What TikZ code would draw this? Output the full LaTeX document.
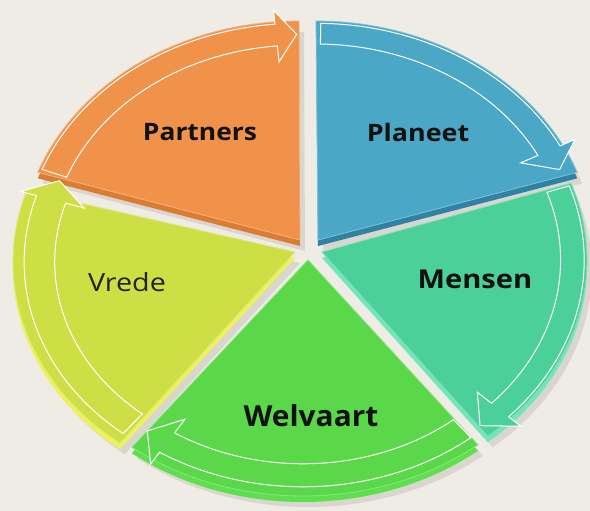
\documentclass[tikz,border=0pt]{standalone}
\usepackage{fontspec}
\usepackage{graphicx}
\setmainfont{Open Sans}
\definecolor{bg}{HTML}{EEECE4}
\definecolor{pface}{HTML}{F0924A}\definecolor{pside}{HTML}{DC7C33}
\definecolor{lface}{HTML}{4AA7C6}\definecolor{lside}{HTML}{2F82A2}
\definecolor{mface}{HTML}{4BD09A}\definecolor{mside}{HTML}{72E6BA}
\definecolor{wface}{HTML}{5BD84A}\definecolor{wside}{HTML}{5EE04C}
\definecolor{vface}{HTML}{CEDF45}\definecolor{vside}{HTML}{EEF25A}
\definecolor{ink}{HTML}{111111}
% segment: ox oy ax ay t1 t2 style
\newcommand{\segfill}[7]{\fill[#7] (#3,#4) -- plot[domain=#5:#6,samples=60] ({#1+278*cos(\x)},{#2-230*sin(\x)}) -- cycle;}
% arrow: ox oy tail base tip so si colour
\newcommand{\piearrow}[8]{%
  \filldraw[fill=#8,draw=white,line width=1pt,line join=miter]
    plot[domain=#3:#4,samples=60] ({#1+#6*278*cos(\x)},{#2-#6*230*sin(\x)})
    -- ({#1+(#6+0.06)*278*cos(#4)},{#2-(#6+0.06)*230*sin(#4)})
    -- ({#1+(#6+#7)/2*278*cos(#5)},{#2-(#6+#7)/2*230*sin(#5)})
    -- ({#1+(#7-0.07)*278*cos(#4)},{#2-(#7-0.07)*230*sin(#4)})
    -- plot[domain=#4:#3,samples=60] ({#1+#7*278*cos(\x)},{#2-#7*230*sin(\x)})
    -- cycle;}
\tikzset{
  shadowfill/.style={fill=black,opacity=0.09},
  lbl/.style={text=ink,anchor=base,inner sep=0pt},
}
\begin{document}
\begin{tikzpicture}[x=1pt,y=-1pt]
\useasboundingbox (0,0) rectangle (590,511);
\fill[bg] (0,0) rectangle (590,511);
% shadows
\begin{scope}[shift={(5,11)}]
\segfill{299}{251}{300}{240}{160}{90}{shadowfill}
\segfill{316}{251}{318}{240}{90}{20}{shadowfill}
\segfill{309}{260}{322}{252}{19.5}{-50}{shadowfill}
\segfill{303}{266}{308}{260}{-51}{-128}{shadowfill}
\segfill{291}{262}{295}{252}{232}{162}{shadowfill}
\end{scope}
% side faces
\begin{scope}[shift={(0,6)}]
\segfill{299}{251}{300}{240}{160}{90}{pside}
\segfill{316}{251}{318}{240}{90}{20}{lside}
\segfill{309}{260}{322}{252}{19.5}{-50}{mside}
\segfill{303}{266}{308}{260}{-51}{-128}{wside}
\segfill{291}{262}{295}{252}{232}{162}{vside}
\end{scope}
% top faces
\segfill{299}{251}{300}{240}{160}{90}{pface,draw=pface!70!white,line width=0.8pt}
\segfill{316}{251}{318}{240}{90}{20}{lface,draw=lface!70!white,line width=0.8pt}
\segfill{309}{260}{322}{252}{19.5}{-50}{mface,draw=mface!70!white,line width=0.8pt}
\segfill{303}{266}{308}{260}{-51}{-128}{wface,draw=wface!70!white,line width=0.8pt}
\segfill{291}{262}{295}{252}{232}{162}{vface,draw=vface!70!white,line width=0.8pt}
% arrows
\piearrow{299}{251}{159}{95}{90.5}{0.99}{0.895}{pface}
\piearrow{316}{251}{89}{27.5}{22}{0.99}{0.9}{lface}
\piearrow{309}{260}{19}{-43.5}{-49.5}{0.99}{0.905}{mface}
\piearrow{303}{266}{-51}{-122.5}{-128}{0.96}{0.86}{wface}
\piearrow{291}{262}{231}{162.5}{157}{0.96}{0.85}{vface}
% labels
\node[lbl,font=\fontsize{24}{24}\selectfont\bfseries] (partners) at (200,140) {\scalebox{1.1}[1]{Partners}};
\node[lbl,font=\fontsize{24}{24}\selectfont\bfseries] (planeet) at (418,142) {\scalebox{1.12}[1]{Planeet}};
\node[lbl,font=\fontsize{26}{26}\selectfont\bfseries] (mensen) at (475,288) {\scalebox{1.12}[1]{Mensen}};
\node[lbl,font=\fontsize{29}{29}\selectfont\bfseries] (welvaart) at (311,426) {\scalebox{1.03}[1]{Welvaart}};
\node[lbl,font=\fontsize{25}{25}\selectfont,text=ink!85!olive] (vrede) at (127,291) {\scalebox{1.15}[1]{Vrede}};
\end{tikzpicture}
\end{document}
